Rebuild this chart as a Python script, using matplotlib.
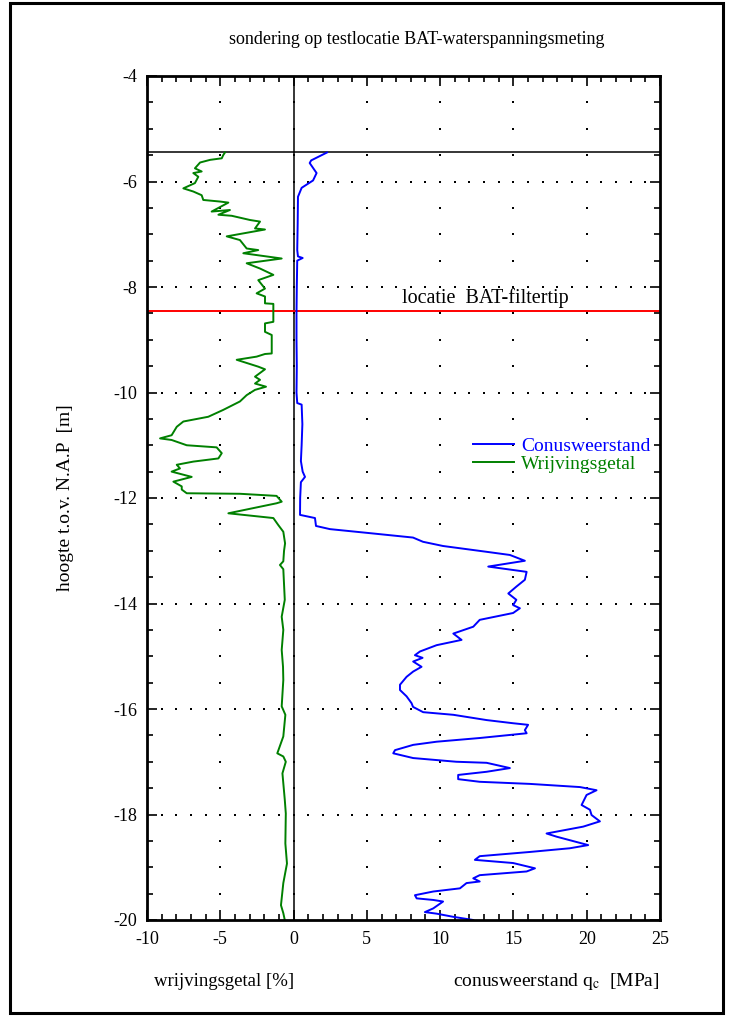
import numpy as np
import matplotlib
matplotlib.use("Agg")
import matplotlib.pyplot as plt
from matplotlib.patches import Rectangle

plt.rcParams["font.family"] = ["Liberation Serif", "DejaVu Serif"]
plt.rcParams["mathtext.fontset"] = "stix"
plt.rcParams["axes.unicode_minus"] = False

# conusweerstand qc [MPa] vs hoogte [m NAP]
qc_depth = [-5.45, -5.6, -5.65, -5.84, -5.98, -6.12, -6.29, -6.8, -7.3, -7.42, -7.45,
            -7.5, -8.0, -8.5, -9.0, -9.5, -10.0, -10.2, -10.23, -10.6, -11.0, -11.3,
            -11.5, -11.6, -11.7, -12.0, -12.32, -12.38, -12.53, -12.59, -12.66, -12.75,
            -12.83, -12.91, -13.02, -13.08, -13.19, -13.3, -13.4, -13.55, -13.68, -13.81,
            -13.93, -14.03, -14.09, -14.18, -14.31, -14.44, -14.57, -14.69, -14.79, -14.91,
            -14.98, -15.03, -15.1, -15.2, -15.29, -15.39, -15.54, -15.64, -15.76, -15.89,
            -15.96, -16.06, -16.11, -16.21, -16.27, -16.3, -16.4, -16.46, -16.55, -16.62,
            -16.68, -16.78, -16.84, -16.93, -17.0, -17.02, -17.12, -17.19, -17.25, -17.33,
            -17.38, -17.42, -17.48, -17.54, -17.63, -17.82, -17.91, -18.01, -18.13, -18.23,
            -18.36, -18.42, -18.58, -18.64, -18.71, -18.79, -18.86, -18.92, -19.02, -19.08,
            -19.15, -19.21, -19.27, -19.3, -19.4, -19.46, -19.53, -19.59, -19.62, -19.65,
            -19.78, -19.85, -19.88, -19.94, -20.0]
qc_value = [2.28, 1.2, 1.1, 1.57, 1.33, 0.55, 0.3, 0.28, 0.25, 0.3, 0.62,
            0.25, 0.22, 0.2, 0.2, 0.22, 0.2, 0.25, 0.55, 0.6, 0.55, 0.5,
            0.62, 0.78, 0.5, 0.45, 0.44, 1.46, 1.53, 2.48, 4.98, 8.15,
            8.83, 10.2, 13.17, 14.76, 15.78, 13.28, 15.9, 15.78, 15.2, 14.65,
            15.2, 14.98, 15.44, 14.98, 12.7, 12.26, 10.9, 11.46, 9.76, 8.62,
            8.28, 8.8, 8.16, 8.73, 8.16, 7.71, 7.26, 7.26, 7.71, 8.05,
            8.15, 8.84, 10.9, 13.17, 14.98, 16.0, 15.78, 15.9, 12.7, 9.76,
            8.16, 6.92, 6.8, 8.16, 11.1, 13.17, 14.76, 13.17, 11.23, 11.23,
            12.7, 16.13, 19.54, 20.67, 19.99, 19.65, 20.22, 20.33, 20.9, 19.76,
            17.26, 17.94, 20.1, 18.85, 16.13, 12.7, 12.37, 14.98, 16.47, 15.9,
            12.7, 12.26, 12.7, 11.8, 11.35, 9.53, 8.28, 8.4, 9.53, 10.2,
            9.53, 8.96, 9.76, 10.9, 12.26]

# wrijvingsgetal [%] (negatief uitgezet)
rf_depth = [-5.45, -5.5, -5.56, -5.59, -5.64, -5.75, -5.81, -5.84, -5.91, -6.03, -6.13,
            -6.19, -6.26, -6.35, -6.38, -6.4, -6.57, -6.54, -6.63, -6.65, -6.73, -6.76,
            -6.89, -6.91, -7.04, -7.11, -7.27, -7.3, -7.36, -7.46, -7.55, -7.65, -7.77,
            -7.87, -8.03, -8.12, -8.18, -8.31, -8.32, -8.66, -8.69, -8.85, -8.91, -9.26,
            -9.27, -9.32, -9.38, -9.51, -9.56, -9.7, -9.76, -9.83, -9.89, -9.95, -10.05,
            -10.17, -10.33, -10.46, -10.55, -10.65, -10.81, -10.87, -10.9, -11.0, -11.04,
            -11.15, -11.25, -11.31, -11.37, -11.44, -11.5, -11.6, -11.69, -11.78, -11.84,
            -11.91, -11.92, -11.96, -12.07, -12.1, -12.29, -12.38, -12.51, -12.64, -12.86,
            -13.0, -13.2, -13.27, -13.35, -13.93, -14.25, -14.5, -14.88, -15.2, -15.45,
            -15.95, -16.11, -16.52, -16.84, -16.9, -17.0, -17.22, -17.72, -17.98, -18.55,
            -18.93, -19.3, -19.72, -19.87, -20.0]
rf_value = [-4.68, -4.8, -4.9, -5.7, -6.38, -6.73, -6.27, -6.84, -6.5, -6.73, -7.52,
            -6.84, -6.27, -6.16, -5.02, -4.45, -5.59, -4.34, -5.13, -4.22, -2.97, -2.29,
            -2.63, -1.95, -4.56, -3.66, -3.2, -2.41, -3.43, -0.81, -3.2, -2.29, -1.38,
            -2.41, -1.95, -2.52, -1.95, -1.95, -1.38, -1.38, -1.95, -1.95, -1.49, -1.49,
            -1.95, -2.52, -3.88, -2.41, -1.95, -2.63, -2.29, -2.63, -1.88, -2.63, -3.2,
            -3.66, -4.8, -5.82, -7.52, -7.97, -8.32, -9.11, -8.32, -7.29, -5.25,
            -4.9, -5.13, -6.84, -7.97, -7.75, -8.32, -6.95, -8.2, -7.63, -7.63,
            -7.29, -3.66, -1.16, -0.81, -1.16, -4.45, -1.38, -1.05, -0.7, -0.58,
            -0.65, -0.7, -0.93, -0.7, -0.6, -0.81, -0.7, -0.81, -0.72, -0.7,
            -0.81, -0.56, -0.7, -1.11, -0.7, -0.53, -0.76, -0.6, -0.53, -0.56,
            -0.45, -0.7, -0.86, -0.7, -0.6]

ground_level = -5.45
filter_level = -8.45

fig = plt.figure(figsize=(7.31, 10.16), dpi=100)
ax = fig.add_axes([147 / 731, 1 - 920 / 1016, 513 / 731, 844 / 1016])

ax.set_xlim(-10, 25)
ax.set_ylim(-20, -4)

# dotted grid: fine dots on main rows, coarse dots on sub rows
xs_fine = np.arange(-9, 25, 1)
xs_coarse = np.arange(-5, 25, 5)
for yy in np.arange(-18, -4, 2):
    ax.plot(xs_fine, np.full(len(xs_fine), yy), ls="none", marker="s", ms=1.8,
            color="black", mew=0)
for yy in np.arange(-19.5, -4, 0.5):
    if yy % 2 != 0:
        ax.plot(xs_coarse, np.full(len(xs_coarse), yy), ls="none", marker="s",
                ms=1.8, color="black", mew=0)

ax.axvline(0, color="black", lw=1.1)
ax.axhline(ground_level, color="black", lw=1.1)
ax.axhline(filter_level, color="red", lw=1.4)
ax.text(13.1, filter_level + 0.05, "locatie  BAT-filtertip", ha="center", va="bottom",
        fontsize=14.5)

ax.plot(qc_value, qc_depth, color="blue", lw=1.4, label="Conusweerstand")
ax.plot(rf_value, rf_depth, color="green", lw=1.4, label="Wrijvingsgetal")

ax.legend(loc="upper left", bbox_to_anchor=(0.635, 0.572), frameon=False,
          fontsize=14, handlelength=2.1, handletextpad=0.4, labelspacing=0.02,
          borderpad=0, borderaxespad=0, labelcolor="linecolor")

ax.set_xticks(np.arange(-10, 26, 5))
ax.set_xticks(np.arange(-10, 26, 1), minor=True)
ax.set_yticks(np.arange(-20, -3, 2))
ax.set_yticks(np.arange(-20, -3.9, 0.5), minor=True)
ax.tick_params(which="both", direction="in", top=True, right=True,
               labelsize=13, width=1.2)
ax.tick_params(which="major", length=7)
ax.tick_params(which="minor", length=4)
ax.tick_params(axis="x", pad=8)
ax.tick_params(axis="y", pad=7)
for s in ax.spines.values():
    s.set_linewidth(2)

ax.set_ylabel("hoogte t.o.v. N.A.P  [m]", fontsize=14, labelpad=28)

fig.text(417 / 731, 1 - 40 / 1016, "sondering op testlocatie BAT-waterspanningsmeting",
         ha="center", va="center", fontsize=13)
fig.text(224 / 731, 1 - 981 / 1016, "wrijvingsgetal [%]", ha="center", va="center",
         fontsize=13.5)
fig.text(556 / 731, 1 - 981 / 1016, r"conusweerstand q$_{\mathrm{c}}$  [MPa]",
         ha="center", va="center", fontsize=14)

fig.patches.append(Rectangle((10 / 731, 3 / 1016), 713 / 731, 1010 / 1016,
                             transform=fig.transFigure, fill=False, lw=2.2,
                             edgecolor="black"))

fig.savefig("out.png", dpi=100)
